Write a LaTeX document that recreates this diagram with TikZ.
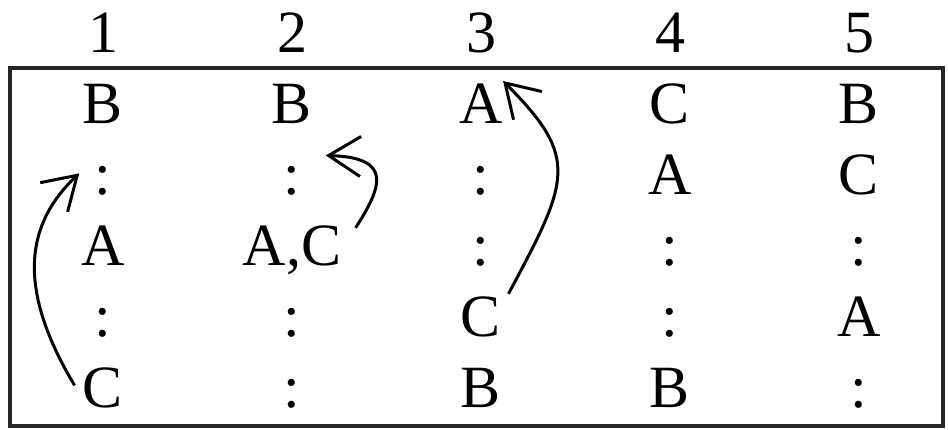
\documentclass[tikz,border=0pt]{standalone}
\usepackage{fontspec}
\setmainfont{Liberation Serif}
\usepackage{tikz}
\usetikzlibrary{arrows.meta,calc}

\begin{document}
\begin{tikzpicture}[
		x=0.5pt, y=-0.5pt,
		cell/.style={anchor=base, inner sep=0pt, font=\fontsize{30}{36}\selectfont},
		arr/.style={-{Straight Barb[length=16pt,width=20pt]}, line width=1.5pt}
		]
		\useasboundingbox (0,0) rectangle (948,429);
		
		% column numbers
		\foreach \n in {1,...,5}
		\node[cell] (h\n) at (189*\n-86,52) {\n};
		
		% table frame
		\draw[line width=1.75pt, black!85] (10,68) rectangle (943,426);
		
		% table entries, row by row
		\foreach \row [count=\r] in {{B,B,A,C,B},{:,:,:,A,C},{A,{A,C},:,:,:},{:,:,C,:,A},{C,:,B,B,:}}
		\foreach \t [count=\c] in \row
		\node[cell] (r\r c\c) at (189*\c-86,52+71*\r) {\t};
		
		\draw[arr] ([shift={(-8,-2)}]r5c1.west) .. controls +(-60,-100) and +(-52,49) .. ([shift={(-15,-7)}]r2c1.west);
		\draw[arr] ([shift={(14,3)}]r3c2.north east) .. controls +(27,-42) and +(67,2) .. ([shift={(25,-10)}]r2c2.north east);
		\draw[arr] ([shift={(7,-2)}]r4c3.north east) .. controls +(61,-114) and +(77,77) .. ([shift={(0,-2)}]r1c3.north east);
	\end{tikzpicture}
\end{document}
